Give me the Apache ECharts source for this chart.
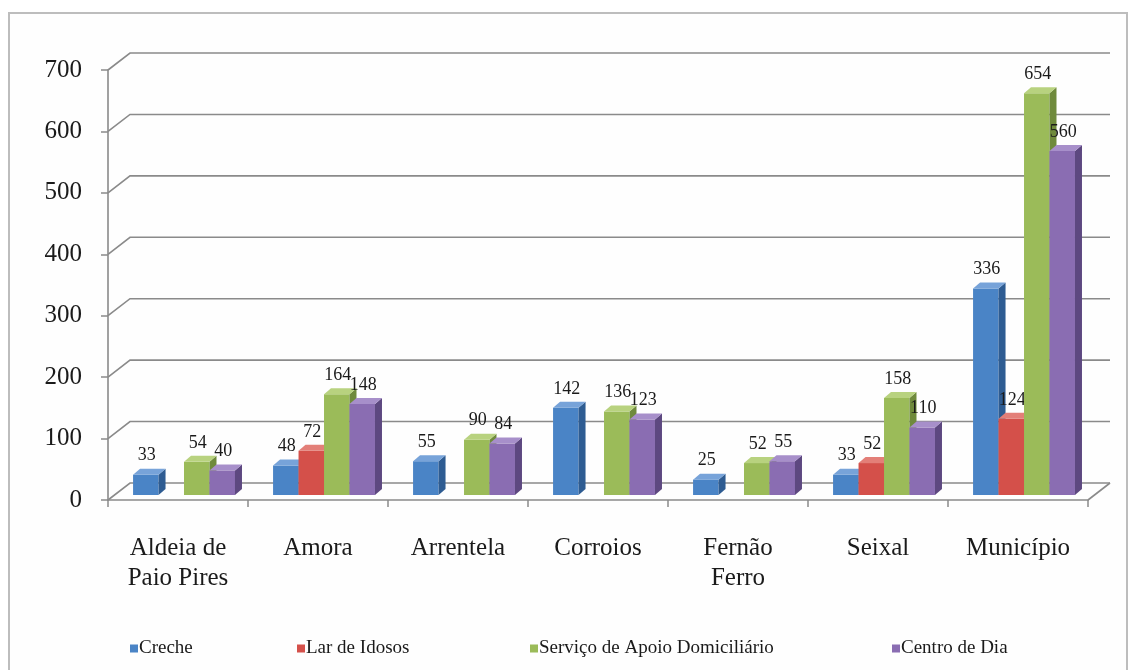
<!DOCTYPE html>
<html>
<head>
<meta charset="utf-8">
<script src="https://cdn.jsdelivr.net/npm/echarts@6/dist/echarts.min.js"></script>
<style>
html,body{margin:0;padding:0;background:#fff;}
#chart{width:1136px;height:670px;}
</style>
</head>
<body>
<div id="chart"></div>
<script>
// ---- data ----
const categories = ['Aldeia de\nPaio Pires', 'Amora', 'Arrentela', 'Corroios', 'Fernão\nFerro', 'Seixal', 'Município'];
const seriesNames = ['Creche', 'Lar de Idosos', 'Serviço de Apoio Domiciliário', 'Centro de Dia'];
const creche = [33, 48, 55, 142, 25, 33, 336];
const larIdosos = [null, 72, null, null, null, 52, 124];
const apoioDomiciliario = [54, 164, 90, 136, 52, 158, 654];
const centroDia = [40, 148, 84, 123, 55, 110, 560];
const yTicks = [0, 100, 200, 300, 400, 500, 600, 700];

// ---- styles ----
const FONT = '"Liberation Serif", "DejaVu Serif", serif';
const palette = [
  {front: '#4a84c6', side: '#2e5c92', top: '#77a3d9'},
  {front: '#d4504a', side: '#983430', top: '#e37f78'},
  {front: '#9bbb59', side: '#6f8a3c', top: '#b8d27f'},
  {front: '#8a6db2', side: '#5d4880', top: '#a78fca'}
];
const WALL_DX = 22, WALL_DY = -17;   // depth of the 3D box
const BAR_OY = -5;                   // bar front plane offset
const BAR_DX = 7, BAR_DY = -6;       // bar depth
const GRID_COLOR = '#8a8a8a';

const allValues = [creche, larIdosos, apoioDomiciliario, centroDia];

function barRenderer(sIdx) {
  const c = palette[sIdx];
  return function (params, api) {
    const cat = api.value(0);
    const val = api.value(1);
    if (val === null || val === undefined || isNaN(val)) return;
    const band = api.size([1, 0])[0];
    const base = api.coord([cat, 0]);
    const topP = api.coord([cat, val]);
    const bw = band * 0.182;
    const x = base[0] - band / 2 + band * 0.179 + sIdx * bw;
    const yB = base[1] + BAR_OY;
    const yT = topP[1] + BAR_OY;
    return {
      type: 'group',
      children: [
        {type: 'rect', shape: {x: x, y: yT, width: bw, height: yB - yT}, style: {fill: c.front}},
        {type: 'polygon', shape: {points: [[x + bw, yT], [x + bw + BAR_DX, yT + BAR_DY], [x + bw + BAR_DX, yB + BAR_DY], [x + bw, yB]]}, style: {fill: c.side}},
        {type: 'polygon', shape: {points: [[x, yT], [x + BAR_DX, yT + BAR_DY], [x + bw + BAR_DX, yT + BAR_DY], [x + bw, yT]]}, style: {fill: c.top}},
        {type: 'text', z2: 100, style: {x: x + bw / 2 + 1, y: yT - 10, text: String(val), textAlign: 'center', textVerticalAlign: 'bottom', fill: '#1a1a1a', font: '18px ' + FONT}}
      ]
    };
  };
}

function wallRenderer(params, api) {
  const v = api.value(1);
  const cs = params.coordSys;
  const y = api.coord([0, v])[1];
  const x0 = cs.x, x1 = cs.x + cs.width;
  const children = [{
    type: 'polyline',
    shape: {points: [[x0, y], [x0 + WALL_DX, y + WALL_DY], [x1 + WALL_DX, y + WALL_DY]]},
    style: {stroke: GRID_COLOR, lineWidth: 1.6, fill: null}
  }];
  if (v === 0) {
    children.push({
      type: 'line',
      shape: {x1: x1, y1: y, x2: x1 + WALL_DX, y2: y + WALL_DY},
      style: {stroke: GRID_COLOR, lineWidth: 1.6}
    });
  }
  return {type: 'group', children: children};
}

const series = [{
  type: 'custom',
  name: 'wall',
  renderItem: wallRenderer,
  data: yTicks.map(t => [0, t]),
  encode: {x: 0, y: 1},
  silent: true,
  z: 1
}];
seriesNames.forEach((n, s) => {
  series.push({
    type: 'custom',
    name: n,
    renderItem: barRenderer(s),
    itemStyle: {color: palette[s].front},
    data: allValues[s].map((v, i) => [i, v === null ? NaN : v]),
    encode: {x: 0, y: 1},
    z: 2 + s
  });
});

const legendLefts = [125, 292, 525, 887];
const chart = echarts.init(document.getElementById('chart'));
chart.setOption({
  backgroundColor: '#ffffff',
  animation: false,
  graphic: [{
    type: 'rect', z: -10,
    shape: {x: 9, y: 13, width: 1118, height: 660},
    style: {fill: '#fefefe', stroke: '#bdbdbd', lineWidth: 2}
  }],
  grid: {left: 108, right: 48, top: 70, bottom: 170},
  xAxis: {
    type: 'category',
    data: categories,
    boundaryGap: true,
    axisLine: {lineStyle: {color: GRID_COLOR, width: 1.6}},
    axisTick: {show: true, length: 7, lineStyle: {color: GRID_COLOR, width: 1.5}},
    axisLabel: {color: '#1a1a1a', fontFamily: FONT, fontSize: 25, margin: 33, lineHeight: 30, interval: 0},
    splitLine: {show: false}
  },
  yAxis: {
    type: 'value',
    min: 0, max: 700, interval: 100,
    axisLine: {show: true, lineStyle: {color: GRID_COLOR, width: 1.6}},
    axisTick: {show: true, length: 7, lineStyle: {color: GRID_COLOR, width: 1.5}},
    axisLabel: {color: '#1a1a1a', fontFamily: FONT, fontSize: 25, margin: 26},
    splitLine: {show: false}
  },
  legend: seriesNames.map((n, i) => ({
    data: [n],
    left: legendLefts[i],
    top: 634,
    icon: 'rect',
    itemWidth: 8,
    itemHeight: 8,
    itemGap: 0,
    textStyle: {fontFamily: FONT, fontSize: 19, color: '#1a1a1a', padding: [0, 0, 0, -4]},
    selectedMode: false
  })),
  series: series
});
</script>
</body>
</html>
